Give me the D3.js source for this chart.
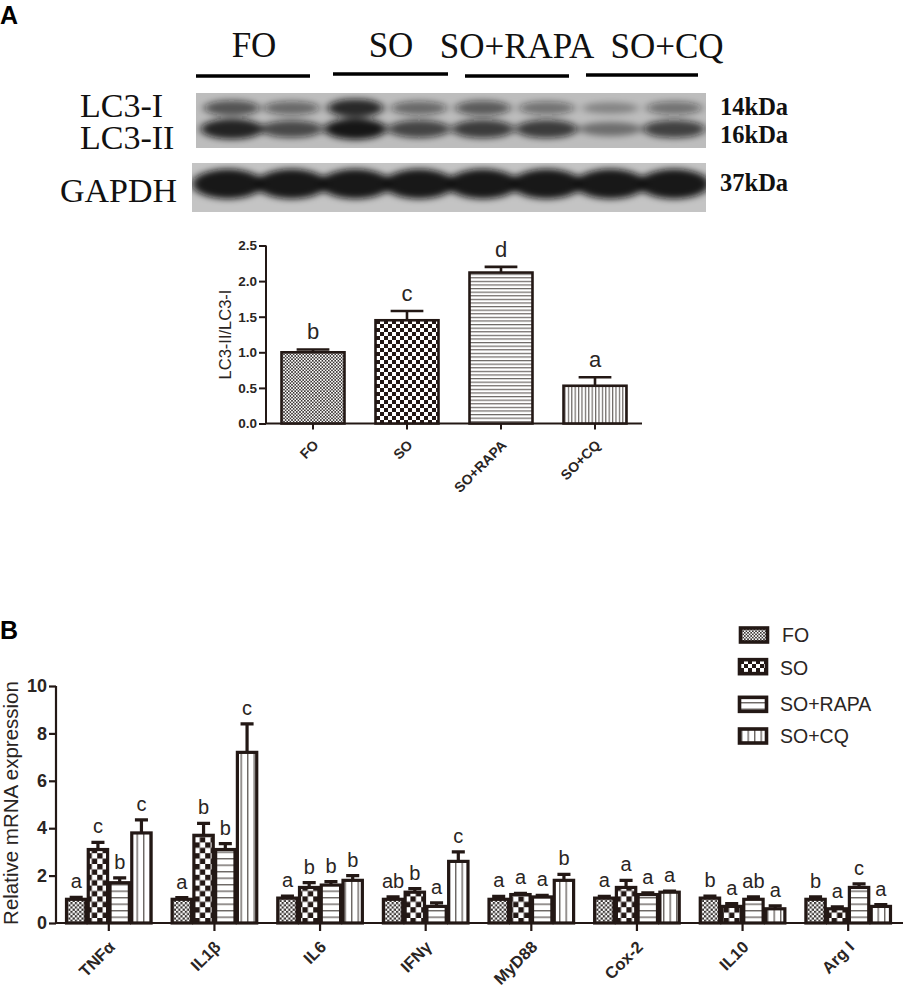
<!DOCTYPE html>
<html>
<head>
<meta charset="utf-8">
<script src="https://cdn.jsdelivr.net/npm/d3@7"></script>
<style>
	html, body { margin: 0; padding: 0; background: #fff; }
	svg { display: block; }
	text { font-family: "Liberation Sans", Arial, sans-serif; fill: #2a2523; }
	.serif { font-family: "Liberation Serif", "Times New Roman", serif; fill: #111; }
</style>
</head>
<body>
<svg id="fig" width="905" height="989"></svg>
<script>
const ink = '#231815';

// panel A: blot
const blotGroups = ['FO', 'SO', 'SO+RAPA', 'SO+CQ'];
const lanes = d3.range(8);
const lc3One = [0.62, 0.5, 0.85, 0.5, 0.58, 0.45, 0.3, 0.45];
const lc3Two = [0.88, 0.68, 0.95, 0.7, 0.75, 0.75, 0.42, 0.72];
const gapdhBand = [0.94, 0.94, 0.94, 0.94, 0.94, 0.94, 0.94, 0.94];

// panel A: bars
const ratioMean = [1.0, 1.45, 2.12, 0.53];
const ratioTop = [1.04, 1.58, 2.2, 0.65];
const ratioLetter = ['b', 'c', 'd', 'a'];
const ratioTicks = [0, 0.5, 1, 1.5, 2, 2.5];

// panel B
const genes = ['TNFα', 'IL1β', 'IL6', 'IFNγ', 'MyD88', 'Cox-2', 'IL10', 'Arg I'];
const seriesNames = ['FO', 'SO', 'SO+RAPA', 'SO+CQ'];
const foMean = [1.0, 1.0, 1.05, 1.0, 1.0, 1.05, 1.05, 1.0];
const soMean = [3.1, 3.7, 1.5, 1.3, 1.2, 1.5, 0.7, 0.6];
const rapaMean = [1.7, 3.1, 1.6, 0.7, 1.1, 1.2, 1.0, 1.5];
const cqMean = [3.8, 7.2, 1.8, 2.6, 1.8, 1.3, 0.6, 0.7];
const foTop = [1.08, 1.07, 1.13, 1.1, 1.12, 1.12, 1.13, 1.1];
const soTop = [3.4, 4.2, 1.7, 1.45, 1.25, 1.8, 0.82, 0.68];
const rapaTop = [1.9, 3.35, 1.75, 0.85, 1.17, 1.27, 1.1, 1.65];
const cqTop = [4.35, 8.4, 2.0, 3.0, 2.05, 1.35, 0.72, 0.78];
const foLetter = ['a', 'a', 'a', 'ab', 'a', 'a', 'b', 'b'];
const soLetter = ['c', 'b', 'b', 'b', 'a', 'a', 'a', 'a'];
const rapaLetter = ['b', 'b', 'b', 'a', 'a', 'a', 'ab', 'c'];
const cqLetter = ['c', 'c', 'b', 'c', 'b', 'a', 'a', 'a'];
const exprTicks = [0, 2, 4, 6, 8, 10];

const svg = d3.select('#fig');
const defs = svg.append('defs');

function checkPattern(id, size, squareColor) {
	const p = defs.append('pattern').attr('id', id).attr('patternUnits', 'userSpaceOnUse')
		.attr('width', size * 2).attr('height', size * 2);
	p.append('rect').attr('width', size * 2).attr('height', size * 2).attr('fill', '#fff');
	p.append('rect').attr('width', size).attr('height', size).attr('fill', squareColor);
	p.append('rect').attr('x', size).attr('y', size).attr('width', size).attr('height', size).attr('fill', squareColor);
}
function stripePattern(id, gap, lineW, vertical) {
	const p = defs.append('pattern').attr('id', id).attr('patternUnits', 'userSpaceOnUse')
		.attr('width', vertical ? gap : 4).attr('height', vertical ? 4 : gap);
	p.append('rect').attr('width', vertical ? gap : 4).attr('height', vertical ? 4 : gap).attr('fill', '#fff');
	p.append('rect').attr('width', vertical ? lineW : 4).attr('height', vertical ? 4 : lineW).attr('fill', '#6b6663');
}
checkPattern('a0', 1.6, '#3a3533');
checkPattern('a1', 4, ink);
stripePattern('a2', 3.6, 1.2, false);
stripePattern('a3', 3.4, 1.2, true);
checkPattern('b0', 2.2, '#3a3533');
checkPattern('b1', 5.4, ink);
stripePattern('b2', 6.5, 1.4, false);
stripePattern('b3', 6.5, 1.4, true);

defs.append('filter').attr('id', 'blurBand').attr('x', '-30%').attr('y', '-80%').attr('width', '160%').attr('height', '260%')
	.append('feGaussianBlur').attr('stdDeviation', '4 3');
defs.append('filter').attr('id', 'blurGapdh').attr('x', '-30%').attr('y', '-80%').attr('width', '160%').attr('height', '260%')
	.append('feGaussianBlur').attr('stdDeviation', '4 3.4');
defs.append('clipPath').attr('id', 'clipTop').append('rect').attr('x', 196).attr('y', 93).attr('width', 510).attr('height', 55);
defs.append('clipPath').attr('id', 'clipBot').append('rect').attr('x', 192).attr('y', 163).attr('width', 514).attr('height', 49);

// panel letters
svg.append('text').attr('x', 0).attr('y', 24).attr('font-size', 25).attr('font-weight', 'bold').style('fill', '#000').text('A');
svg.append('text').attr('x', 0).attr('y', 639).attr('font-size', 25).attr('font-weight', 'bold').style('fill', '#000').text('B');

// blot headers
const headX = [254, 391, 517, 667];
const headY = [57, 57, 58, 58];
svg.selectAll('.head').data(blotGroups).enter().append('text')
	.attr('class', 'serif').attr('text-anchor', 'middle').attr('font-size', 35)
	.attr('x', (d, i) => headX[i]).attr('y', (d, i) => headY[i]).text(d => d);
const headLine = [[196, 310, 76], [333, 448, 74], [465, 569, 76], [586, 698, 75]];
svg.selectAll('.headline').data(headLine).enter().append('line')
	.attr('x1', d => d[0]).attr('x2', d => d[1]).attr('y1', d => d[2]).attr('y2', d => d[2])
	.attr('stroke', '#000').attr('stroke-width', 3.6);

// blots
const laneX = d3.scaleBand().domain(lanes).range([196, 706]);
const blotTop = svg.append('g').attr('clip-path', 'url(#clipTop)');
blotTop.append('rect').attr('x', 196).attr('y', 93).attr('width', 510).attr('height', 55).attr('fill', '#bdbdbd');
const bandGroup = blotTop.append('g').attr('filter', 'url(#blurBand)');
bandGroup.selectAll('.one').data(lc3One).enter().append('ellipse')
	.attr('cx', (d, i) => laneX(i) + laneX.bandwidth() / 2 + (i === 0 ? 4 : 0))
	.attr('cy', 108).attr('rx', laneX.bandwidth() * 0.44).attr('ry', d => 4 + 6 * d)
	.attr('fill', '#111').attr('opacity', d => d);
bandGroup.selectAll('.two').data(lc3Two).enter().append('ellipse')
	.attr('cx', (d, i) => laneX(i) + laneX.bandwidth() / 2 + (i === 0 ? 4 : 0))
	.attr('cy', 129).attr('rx', laneX.bandwidth() * 0.49).attr('ry', d => 4 + 7 * d)
	.attr('fill', '#0c0c0c').attr('opacity', d => d);

const blotBot = svg.append('g').attr('clip-path', 'url(#clipBot)');
blotBot.append('rect').attr('x', 192).attr('y', 163).attr('width', 514).attr('height', 49).attr('fill', '#c4c4c4');
blotBot.append('g').attr('filter', 'url(#blurGapdh)')
	.selectAll('ellipse').data(gapdhBand).enter().append('ellipse')
	.attr('cx', (d, i) => laneX(i) + laneX.bandwidth() / 2)
	.attr('cy', 184).attr('rx', laneX.bandwidth() * 0.56).attr('ry', 15)
	.attr('fill', '#111').attr('opacity', d => d);

// blot labels
const blotNames = ['LC3-I', 'LC3-II', 'GAPDH'];
const blotNameX = [80, 80, 60];
const blotNameY = [117, 149, 202];
svg.selectAll('.name').data(blotNames).enter().append('text')
	.attr('class', 'serif').attr('font-size', 34)
	.attr('x', (d, i) => blotNameX[i]).attr('y', (d, i) => blotNameY[i]).text(d => d);
const sizes = ['14kDa', '16kDa', '37kDa'];
const sizeY = [115, 143, 191];
svg.selectAll('.size').data(sizes).enter().append('text')
	.attr('class', 'serif').attr('font-size', 24.5).attr('font-weight', 'bold')
	.attr('x', 720).attr('y', (d, i) => sizeY[i]).text(d => d);

// panel A chart
const yA = d3.scaleLinear().domain([0, 2.5]).range([423.5, 245.5]);
const xA = d3.scaleBand().domain(blotGroups).range([266, 642]).paddingInner(0.33).paddingOuter(0.165);
const gA = svg.append('g');
const axisLeftA = gA.append('g').attr('transform', 'translate(266,0)')
	.call(d3.axisLeft(yA).tickValues(ratioTicks).tickFormat(d3.format('.1f')).tickSize(7).tickPadding(2));
const axisBottomA = gA.append('g').attr('transform', 'translate(0,423.5)')
	.call(d3.axisBottom(xA).tickSize(6).tickPadding(6));
[axisLeftA, axisBottomA].forEach(a => {
	a.selectAll('path, line').attr('stroke', ink).attr('stroke-width', 2);
	a.select('.domain').attr('d', a === axisLeftA ? 'M0,245.5V423.5' : 'M266,0H642');
});
axisLeftA.selectAll('text').attr('font-size', 13.5).attr('font-weight', 'bold').style('font-family', '"Liberation Sans"');
axisBottomA.selectAll('text').attr('font-size', 14).attr('font-weight', 'bold').style('font-family', '"Liberation Sans"')
	.attr('text-anchor', 'end').attr('x', 0).attr('y', 0).attr('dy', '0.35em').attr('transform', 'translate(3,19) rotate(-45)');

gA.selectAll('.err').data(blotGroups).enter().append('path')
	.attr('d', (d, i) => {
		const c = xA(d) + xA.bandwidth() / 2, w = xA.bandwidth() * 0.26;
		return `M${c},${yA(ratioMean[i])}V${yA(ratioTop[i])}M${c - w},${yA(ratioTop[i])}H${c + w}`;
	})
	.attr('fill', 'none').attr('stroke', ink).attr('stroke-width', 2.6);
gA.selectAll('.bar').data(blotGroups).enter().append('rect')
	.attr('x', d => xA(d)).attr('width', xA.bandwidth())
	.attr('y', (d, i) => yA(ratioMean[i])).attr('height', (d, i) => yA(0) - yA(ratioMean[i]))
	.attr('fill', (d, i) => `url(#a${i})`).attr('stroke', ink).attr('stroke-width', 2.6);
gA.selectAll('.letter').data(blotGroups).enter().append('text')
	.attr('text-anchor', 'middle').attr('font-size', 22)
	.attr('x', d => xA(d) + xA.bandwidth() / 2)
	.attr('y', (d, i) => yA(ratioTop[i]) - 10).text((d, i) => ratioLetter[i]);
gA.append('text').attr('transform', 'translate(231,334.5) rotate(-90)').attr('text-anchor', 'middle')
	.attr('font-size', 16.5).text('LC3-II/LC3-I');

// panel B chart
const yB = d3.scaleLinear().domain([0, 10]).range([923, 686]);
const xB = d3.scaleBand().domain(genes).range([56, 901]).paddingOuter(0);
const xInner = d3.scaleBand().domain(seriesNames).range([-43.5, 43.5]);
const means = [foMean, soMean, rapaMean, cqMean];
const tops = [foTop, soTop, rapaTop, cqTop];
const letters = [foLetter, soLetter, rapaLetter, cqLetter];
const gB = svg.append('g');
const axisLeftB = gB.append('g').attr('transform', 'translate(56,0)')
	.call(d3.axisLeft(yB).tickValues(exprTicks).tickSize(7).tickPadding(2));
const axisBottomB = gB.append('g').attr('transform', 'translate(0,923)')
	.call(d3.axisBottom(xB).tickSize(8).tickPadding(7));
axisLeftB.selectAll('path, line').attr('stroke', ink).attr('stroke-width', 2.2);
axisBottomB.selectAll('path, line').attr('stroke', ink).attr('stroke-width', 2.2);
axisLeftB.select('.domain').attr('d', 'M0,686V923');
axisBottomB.select('.domain').attr('d', 'M56,0H903');
axisLeftB.selectAll('text').attr('font-size', 18).attr('font-weight', 'bold').style('font-family', '"Liberation Sans"');
axisBottomB.selectAll('text').attr('font-size', 16.5).attr('font-weight', 'bold').style('font-family', '"Liberation Sans"')
	.attr('text-anchor', 'end').attr('x', 0).attr('y', 0).attr('dy', '0.35em').attr('transform', 'translate(3,21) rotate(-45)');

seriesNames.forEach((name, s) => {
	const g = gB.append('g');
	const cx = gene => xB(gene) + xB.bandwidth() / 2 + xInner(name) + xInner.bandwidth() / 2;
	g.selectAll('.err').data(genes).enter().append('path')
		.attr('d', (d, i) => {
			const w = xInner.bandwidth() * 0.3;
			return `M${cx(d)},${yB(means[s][i])}V${yB(tops[s][i])}M${cx(d) - w},${yB(tops[s][i])}H${cx(d) + w}`;
		})
		.attr('fill', 'none').attr('stroke', ink).attr('stroke-width', 3.2);
	g.selectAll('.bar').data(genes).enter().append('rect')
		.attr('x', d => cx(d) - xInner.bandwidth() / 2 + 1.2)
		.attr('width', xInner.bandwidth() - 2.4)
		.attr('y', (d, i) => yB(means[s][i]))
		.attr('height', (d, i) => yB(0) - yB(means[s][i]))
		.attr('fill', `url(#b${s})`).attr('stroke', ink).attr('stroke-width', 3.2);
	g.selectAll('.letter').data(genes).enter().append('text')
		.attr('text-anchor', 'middle').attr('font-size', 20)
		.attr('x', d => cx(d))
		.attr('y', (d, i) => yB(tops[s][i]) - 9).text((d, i) => letters[s][i]);
});
gB.append('text').attr('transform', 'translate(18,803) rotate(-90)').attr('text-anchor', 'middle')
	.attr('font-size', 20.5).text('Relative mRNA expression');

// legend
const legendY = d3.scalePoint().domain(seriesNames).range([635, 736]);
const legend = svg.selectAll('.legend').data(seriesNames).enter().append('g');
legend.append('rect')
	.attr('x', (d, i) => i === 0 ? 740.5 : 739.5).attr('width', 27).attr('height', 14)
	.attr('y', d => legendY(d) - 7 + (d === 'SO' ? -2 : d === 'SO+RAPA' ? 2 : 0))
	.attr('fill', (d, i) => `url(#${i < 2 ? 'a' : 'b'}${i})`).attr('stroke', ink).attr('stroke-width', 3.6);
legend.append('text')
	.attr('x', (d, i) => i === 0 ? 782 : 780).attr('font-size', 19.5)
	.attr('y', d => legendY(d) + 7 + (d === 'SO' ? -1 : d === 'SO+RAPA' ? 2 : 0)).text(d => d);
</script>
</body>
</html>
